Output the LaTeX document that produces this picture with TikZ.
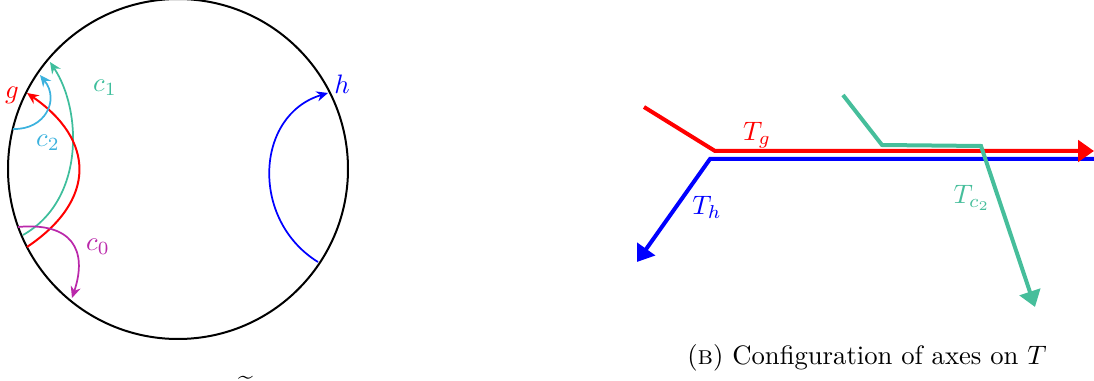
\documentclass[tikz,border=0pt]{standalone}
\usetikzlibrary{arrows.meta}
\definecolor{cone}{RGB}{62,190,156}
\definecolor{ctwo}{RGB}{60,178,222}
\definecolor{czero}{RGB}{186,40,170}
\definecolor{tgreen}{RGB}{70,190,155}
\begin{document}
\begin{tikzpicture}[x=0.375pt,y=-0.375pt,
  thinarc/.style={line width=0.65pt,-{Stealth[length=4.3pt,width=3.8pt]}},
  axis/.style={line width=1.5pt},
  bigtip/.style={-{Triangle[length=6pt,width=8pt]}},
  lab/.style={inner sep=1pt}]
\useasboundingbox (0,0) rectangle (1094,381);
% left: disc
\node[circle,draw,line width=0.75pt,minimum size=127.5pt,inner sep=0pt] (disc) at (178,169) {};
\coordinate (g0) at (27,247); \coordinate (g1) at (27,93);
\coordinate (a0) at (23,235); \coordinate (a1) at (50,62);
\coordinate (b0) at (13,129); \coordinate (b1) at (40,75);
\coordinate (z0) at (18,227); \coordinate (z1) at (72,298);
\coordinate (h0) at (318,262); \coordinate (h1) at (328,93);
\draw[thinarc,cone] (a0) .. controls (85,200) and (82,110) .. (a1);
\draw[thinarc,red,line width=0.75pt] (g0) .. controls (97,200) and (95,140) .. (g1);
\draw[thinarc,ctwo] (b0) .. controls (45,130) and (60,100) .. (b1);
\draw[thinarc,czero] (z0) .. controls (72,222) and (88,250) .. (z1);
\draw[thinarc,blue] (h0) .. controls (250,220) and (255,115) .. (h1);
\node[lab,red] (lg) at (12,95) {$g$};
\node[lab,cone] (lc1) at (105,88) {$c_1$};
\node[lab,ctwo] (lc2) at (48,143) {$c_2$};
\node[lab,czero] (lc0) at (98,247) {$c_0$};
\node[lab,blue] (lh) at (342,84) {$h$};
\node[anchor=base,inner sep=0pt] (tl) at (246,396) {$\widetilde{\phantom{x}}$};
% right: axes
\coordinate (r0) at (644,107); \coordinate (r1) at (715,151); \coordinate (r2) at (1094,151);
\coordinate (u0) at (637,262); \coordinate (u1) at (710,159); \coordinate (u2) at (1094,159);
\coordinate (t0) at (843,95); \coordinate (t1) at (882,145); \coordinate (t2) at (981,146); \coordinate (t3) at (1035,307);
\draw[axis,blue,{Triangle[length=6pt,width=8pt]}-] (u0) -- (u1) -- (u2);
\draw[axis,red,bigtip] (r0) -- (r1) -- (r2);
\draw[axis,tgreen,bigtip] (t0) -- (t1) -- (t2) -- (t3);
\node[lab,red] (ltg) at (757,135) {$T_g$};
\node[lab,blue] (lth) at (707,207) {$T_h$};
\node[lab,tgreen] (ltc) at (972,198) {$T_{c_2}$};
\node (cap) at (867,358) {(\textsc{b}) Configuration of axes on $T$};
\end{tikzpicture}
\end{document}
